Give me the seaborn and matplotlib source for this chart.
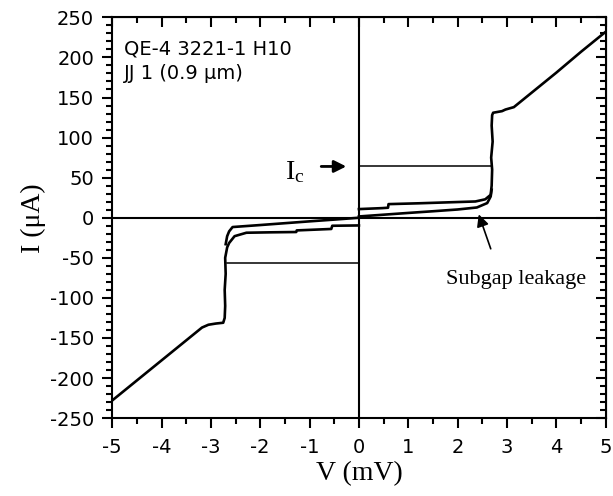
import numpy as np
import pandas as pd
import seaborn as sns
import matplotlib
matplotlib.use('Agg')
import matplotlib.pyplot as plt
from matplotlib.ticker import MultipleLocator

# I-V curve of the junction (V in mV, I in uA)
# positive side, upper sweep (with switching up to the gap)
v_up = [0, 0.47, 0.59, 0.6, 1.2, 1.8, 2.36, 2.56, 2.67, 2.69, 2.70, 2.68, 2.71, 2.69, 2.70, 2.72,
        2.9, 2.97, 3.14, 3.5, 4.0, 4.5, 5.0]
i_up = [10.8, 12, 12.5, 17, 18, 19.2, 20.3, 23, 28.6, 40, 60, 75, 95, 115, 128, 131,
        133, 135, 138, 156, 181, 207, 232]
# positive side, subgap leakage branch
v_sub = [0, 0.5, 1.0, 1.5, 2.0, 2.39, 2.6, 2.67, 2.69]
i_sub = [1.6, 3.8, 6.0, 8.1, 10.3, 12.8, 18.3, 26.5, 35]
# negative side, outer sweep
v_dn = [0, -0.54, -0.56, -1.26, -1.27, -1.8, -2.28, -2.52, -2.63, -2.67, -2.71, -2.70, -2.72, -2.71,
        -2.72, -2.75, -2.9, -3.05, -3.18, -3.5, -4.0, -4.5, -5.0]
i_dn = [-9.6, -10, -14, -15.8, -17.8, -18.2, -18.7, -23, -31.5, -37, -50, -70, -90, -110,
        -125, -131, -132, -133.5, -137, -153, -178, -203, -228]
# negative side, subgap branch
v_sub_neg = [0, -0.5, -1.0, -1.5, -2.0, -2.56, -2.63, -2.67, -2.7]
i_sub_neg = [0, -2.3, -4.5, -6.8, -9.1, -11.6, -17, -23, -33]
# critical current markers
v_ic_pos = [0, 2.67]
i_ic_pos = [64, 64]
v_ic_neg = [-2.67, 0]
i_ic_neg = [-57, -57]

plt.rcParams['font.family'] = ['DejaVu Sans']
plt.rcParams['axes.unicode_minus'] = False
plt.rcParams['mathtext.fontset'] = 'custom'
plt.rcParams['mathtext.rm'] = 'Liberation Serif'
plt.rcParams['mathtext.it'] = 'Liberation Serif:italic'

fig, ax = plt.subplots(figsize=(6.13, 4.96), dpi=100)
fig.subplots_adjust(left=0.183, right=0.988, bottom=0.157, top=0.965)

for v, i in [(v_up, i_up), (v_sub, i_sub), (v_dn, i_dn), (v_sub_neg, i_sub_neg)]:
    sns.lineplot(x=v, y=i, sort=False, estimator=None, color='black', lw=1.9, ax=ax)
for v, i in [(v_ic_pos, i_ic_pos), (v_ic_neg, i_ic_neg)]:
    sns.lineplot(x=v, y=i, sort=False, estimator=None, color='black', lw=1.1, ax=ax)

ax.axhline(0, color='black', lw=1.5)
ax.axvline(0, color='black', lw=1.5)

ax.set_xlim(-5, 5)
ax.set_ylim(-250, 250)
ax.xaxis.set_major_locator(MultipleLocator(1))
ax.xaxis.set_minor_locator(MultipleLocator(0.5))
ax.yaxis.set_major_locator(MultipleLocator(50))
ax.yaxis.set_minor_locator(MultipleLocator(10))
ax.tick_params(which='both', direction='out', width=1.5, colors='black')
ax.tick_params(axis='x', which='major', length=7, pad=7)
ax.tick_params(axis='y', which='major', length=7, pad=6)
ax.tick_params(which='minor', length=4)
for lab in ax.get_xticklabels() + ax.get_yticklabels():
    lab.set_fontsize(14)
for s in ax.spines.values():
    s.set_linewidth(1.5)
    s.set_color('black')

# inward ticks on top and right
top = ax.secondary_xaxis('top')
top.xaxis.set_major_locator(MultipleLocator(1))
top.xaxis.set_minor_locator(MultipleLocator(0.5))
top.tick_params(which='both', direction='in', width=1.5, labeltop=False)
top.tick_params(which='major', length=7)
top.tick_params(which='minor', length=4)
right = ax.secondary_yaxis('right')
right.yaxis.set_major_locator(MultipleLocator(50))
right.yaxis.set_minor_locator(MultipleLocator(10))
right.tick_params(which='both', direction='in', width=1.5, labelright=False)
right.tick_params(which='major', length=7)
right.tick_params(which='minor', length=4)

ax.set_xlabel('V (mV)', fontfamily='Liberation Serif', fontsize=20, labelpad=3)
ax.set_ylabel('I (\u03bcA)', fontfamily='Liberation Serif', fontsize=20, labelpad=3)

ax.text(-4.76, 211, 'QE-4 3221-1 H10', fontsize=14, va='center', ha='left')
ax.text(-4.76, 180, 'JJ 1 (0.9 \u03bcm)', fontsize=14, va='center', ha='left')

ax.text(-1.5, 58, r'$\mathrm{I_c}$', fontsize=20, va='center', ha='left')
ax.annotate('', xy=(-0.2, 64), xytext=(-0.82, 64),
            arrowprops=dict(arrowstyle='-|>', color='black', lw=2, mutation_scale=18))

ax.annotate('Subgap leakage', xy=(2.41, 7.5), xytext=(3.18, -77),
            fontfamily='Liberation Serif', fontsize=16, ha='center', va='center')
ax.annotate('', xy=(2.41, 7.5), xytext=(2.69, -42),
            arrowprops=dict(arrowstyle='-|>', color='black', lw=1.2, mutation_scale=18))

fig.savefig('out.png', dpi=100)
